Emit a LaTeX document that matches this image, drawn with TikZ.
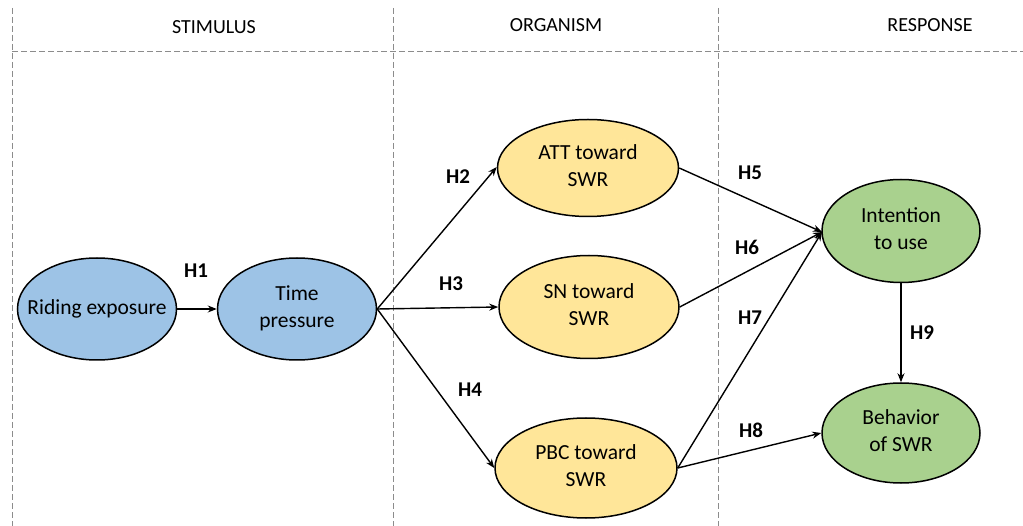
\documentclass[tikz,border=0pt]{standalone}
\usepackage{fontspec}
\setmainfont{Carlito}
\usetikzlibrary{shapes.geometric,arrows.meta}
\definecolor{cblue}{HTML}{9DC3E6}
\definecolor{cyellow}{HTML}{FFE699}
\definecolor{cgreen}{HTML}{A9D18E}
\definecolor{cdash}{HTML}{8C8C8C}
\newcommand{\ztext}[1]{\makebox[0pt]{\begin{tabular}{@{}c@{}}#1\end{tabular}}}
\tikzset{
  ell/.style={ellipse, draw=black, line width=1.5pt, inner sep=0pt, align=center,
    font=\fontsize{21.5}{27}\selectfont},
  hdr/.style={font=\fontsize{20}{24}\selectfont, inner sep=0pt},
  hlab/.style={font=\bfseries\fontsize{21}{25}\selectfont, inner sep=0pt},
  conn/.style={line width=1.4pt, -{Stealth[length=9pt,width=7pt]}},
  sep/.style={draw=cdash, dash pattern=on 6pt off 3pt, line width=1pt}
}
\begin{document}
\begin{tikzpicture}[x=1pt,y=-1pt]
\useasboundingbox (0,0) rectangle (1023,526);
% separators
\coordinate (l1t) at (12,8);   \coordinate (l1b) at (12,526);
\coordinate (l2t) at (393,8);  \coordinate (l2b) at (393,526);
\coordinate (l3t) at (718,8);  \coordinate (l3b) at (718,526);
\coordinate (hl) at (12,52);   \coordinate (hr) at (1023,52);
\draw[sep] (l1t) -- (l1b);
\draw[sep] (l2t) -- (l2b);
\draw[sep] (l3t) -- (l3b);
\draw[sep] (hl) -- (hr);
% headers
\node[hdr] (hs) at (214,27) {STIMULUS};
\node[hdr] (ho) at (556,25) {ORGANISM};
\node[hdr] (hrr) at (930,25) {RESPONSE};
% nodes
\node[ell, fill=cblue, minimum width=159pt, minimum height=102pt] (re) at (97,309) {\ztext{Riding exposure}};
\node[ell, fill=cblue, minimum width=159pt, minimum height=102pt] (tp) at (297,309) {\ztext{Time\\pressure}};
\node[ell, fill=cyellow, minimum width=181pt, minimum height=97pt] (att) at (588,168) {\ztext{ATT toward\\SWR}};
\node[ell, fill=cyellow, minimum width=180pt, minimum height=103pt] (sn) at (589,307) {\ztext{SN toward\\SWR}};
\node[ell, fill=cyellow, minimum width=182pt, minimum height=100pt] (pbc) at (586,468) {\ztext{PBC toward\\SWR}};
\node[ell, fill=cgreen, minimum width=158pt, minimum height=103pt] (int) at (901,231) {\ztext{Intention\\to use}};
\node[ell, fill=cgreen, minimum width=158pt, minimum height=100pt] (beh) at (901,433) {\ztext{Behavior\\of SWR}};
\coordinate (ip) at (822,232);
% connectors
\draw[conn] (re.east) -- (tp.west);
\draw[conn] (tp.east) -- (att.west |- 0,167) ;
\draw[conn] (tp.east) -- (sn.west);
\draw[conn] (tp.east) -- (pbc.west);
\draw[conn] (att.east) -- (ip);
\draw[conn] (sn.east) -- (ip);
\draw[conn] (pbc.east) -- (ip);
\draw[conn] (pbc.east) -- (beh.west);
\draw[conn] (int.south) -- (beh.north);
% labels
\node[hlab] (h1) at (196,271) {H1};
\node[hlab] (h2) at (458,177) {H2};
\node[hlab] (h3) at (451,284) {H3};
\node[hlab] (h4) at (470,390) {H4};
\node[hlab] (h5) at (750,173) {H5};
\node[hlab] (h6) at (747,247) {H6};
\node[hlab] (h7) at (750,318) {H7};
\node[hlab] (h8) at (751,430) {H8};
\node[hlab] (h9) at (922,333) {H9};
\end{tikzpicture}
\end{document}
